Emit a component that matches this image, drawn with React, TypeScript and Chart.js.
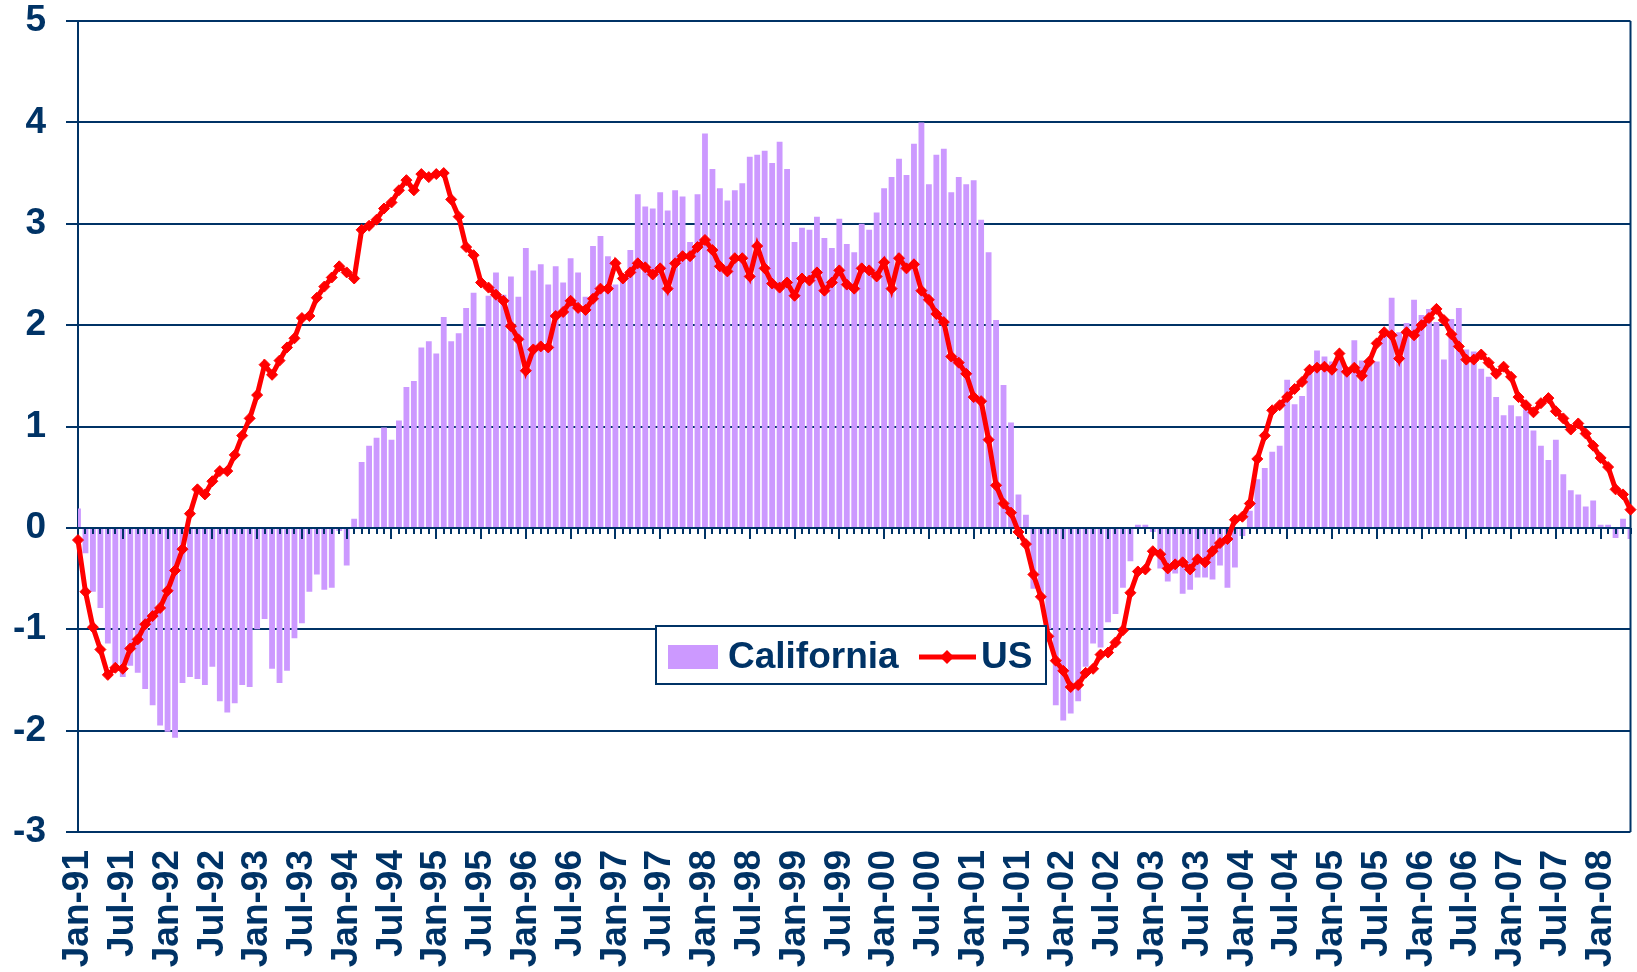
import React, { useEffect, useRef } from "react";
import { Chart, registerables } from "chart.js";

Chart.register(...registerables);

// ---------------- data ----------------
const MONTH_NAMES = ["Jan", "Feb", "Mar", "Apr", "May", "Jun", "Jul", "Aug", "Sep", "Oct", "Nov", "Dec"];
const FIRST_YEAR = 1991;

// California (bars), monthly, Jan-91 .. May-08
const californiaValues = [
  0.19, -0.25, -0.63, -0.79, -1.14, -1.35, -1.47, -1.36, -1.43, -1.59, -1.75, -1.95,
  -2.01, -2.07, -1.53, -1.47, -1.49, -1.55, -1.37, -1.71, -1.82, -1.73, -1.55, -1.57,
  -1.0, -0.9, -1.39, -1.53, -1.41, -1.09, -0.94, -0.63, -0.46, -0.61, -0.59, -0.03,
  -0.37, 0.09, 0.65, 0.81, 0.89, 0.99, 0.87, 1.06, 1.39, 1.45, 1.78, 1.84,
  1.72, 2.08, 1.84, 1.92, 2.17, 2.32, 1.98, 2.29, 2.52, 2.3, 2.48, 2.28,
  2.76, 2.54, 2.6, 2.4, 2.58, 2.42, 2.66, 2.52, 2.28, 2.78, 2.88, 2.68,
  2.4, 2.45, 2.74, 3.29, 3.17, 3.15, 3.31, 3.13, 3.33, 3.27, 2.82, 3.29,
  3.89, 3.54, 3.35, 3.23, 3.33, 3.4, 3.66, 3.68, 3.72, 3.6, 3.81, 3.54,
  2.82, 2.96, 2.94, 3.07, 2.86, 2.76, 3.05, 2.8, 2.72, 3.0, 2.94, 3.11,
  3.35, 3.46, 3.64, 3.48, 3.79, 4.0, 3.39, 3.68, 3.74, 3.31, 3.46, 3.39,
  3.43, 3.04, 2.72, 2.05, 1.41, 1.04, 0.33, 0.13, -0.6, -0.66, -1.0, -1.75,
  -1.9, -1.83, -1.71, -1.37, -1.14, -1.18, -0.93, -0.85, -0.59, -0.33, 0.03, 0.03,
  -0.04, -0.4, -0.53, -0.45, -0.65, -0.61, -0.49, -0.49, -0.51, -0.37, -0.59, -0.39,
  -0.08, 0.17, 0.48, 0.59, 0.75, 0.81, 1.46, 1.22, 1.3, 1.55, 1.75, 1.69,
  1.64, 1.72, 1.52, 1.85, 1.65, 1.64, 1.64, 1.9, 2.27, 1.93, 2.02, 2.25,
  2.1, 2.16, 2.03, 1.66, 2.06, 2.17, 1.76, 1.74, 1.57, 1.49, 1.29, 1.11,
  1.21, 1.1, 1.17, 0.96, 0.81, 0.67, 0.87, 0.53, 0.37, 0.33, 0.21, 0.27,
  0.03, 0.03, -0.1, 0.09, -0.11,
];

// US (line), monthly, Jan-91 .. May-08
const usValues = [
  -0.12, -0.63, -0.98, -1.2, -1.45, -1.38, -1.39, -1.19, -1.1, -0.95, -0.87, -0.79,
  -0.62, -0.42, -0.21, 0.14, 0.38, 0.33, 0.46, 0.56, 0.56, 0.72, 0.91, 1.08,
  1.31, 1.61, 1.51, 1.65, 1.78, 1.87, 2.07, 2.09, 2.27, 2.38, 2.47, 2.58,
  2.52, 2.46, 2.94, 2.98, 3.04, 3.15, 3.21, 3.33, 3.43, 3.33, 3.49, 3.46,
  3.49, 3.5, 3.24, 3.07, 2.77, 2.69, 2.42, 2.37, 2.3, 2.24, 1.99, 1.86,
  1.55, 1.76, 1.79, 1.78, 2.09, 2.13, 2.24, 2.17, 2.15, 2.26, 2.36, 2.36,
  2.61, 2.46, 2.52, 2.61, 2.57, 2.5, 2.56, 2.36, 2.61, 2.68, 2.68, 2.77,
  2.84, 2.74, 2.58, 2.53, 2.66, 2.66, 2.48, 2.78, 2.56, 2.41, 2.37, 2.42,
  2.29, 2.46, 2.44, 2.52, 2.34, 2.42, 2.54, 2.4, 2.36, 2.56, 2.54, 2.48,
  2.62, 2.36, 2.66, 2.56, 2.6, 2.34, 2.25, 2.11, 2.03, 1.69, 1.63, 1.52,
  1.29, 1.25, 0.87, 0.42, 0.24, 0.15, -0.04, -0.16, -0.46, -0.68, -1.07, -1.31,
  -1.41, -1.57, -1.55, -1.43, -1.39, -1.25, -1.23, -1.13, -1.01, -0.64, -0.43, -0.41,
  -0.23, -0.26, -0.4, -0.36, -0.34, -0.41, -0.31, -0.34, -0.23, -0.15, -0.11, 0.08,
  0.11, 0.24, 0.68, 0.91, 1.16, 1.21, 1.29, 1.37, 1.44, 1.56, 1.58, 1.59,
  1.56, 1.72, 1.54, 1.58, 1.5, 1.64, 1.82, 1.93, 1.9, 1.67, 1.93, 1.9,
  2.0, 2.07, 2.16, 2.05, 1.91, 1.79, 1.66, 1.66, 1.71, 1.63, 1.52, 1.59,
  1.49, 1.29, 1.21, 1.14, 1.23, 1.28, 1.15, 1.08, 0.97, 1.03, 0.93, 0.81,
  0.69, 0.6, 0.38, 0.33, 0.18,
];

// axis labels shown on the category axis
const tickLabels = [
  "Jan-91", "Jul-91", "Jan-92", "Jul-92", "Jan-93", "Jul-93", "Jan-94", "Jul-94",
  "Jan-95", "Jul-95", "Jan-96", "Jul-96", "Jan-97", "Jul-97", "Jan-98", "Jul-98",
  "Jan-99", "Jul-99", "Jan-00", "Jul-00", "Jan-01", "Jul-01", "Jan-02", "Jul-02",
  "Jan-03", "Jul-03", "Jan-04", "Jul-04", "Jan-05", "Jul-05", "Jan-06", "Jul-06",
  "Jan-07", "Jul-07", "Jan-08",
];

const categories = californiaValues.map((_, i) => {
  const yr = (FIRST_YEAR + Math.floor(i / 12)) % 100;
  return `${MONTH_NAMES[i % 12]}-${String(yr).padStart(2, "0")}`;
});

const SERIES_NAMES = ["California", "US"];

// ---------------- style ----------------
const NAVY = "#003366";
const LAVENDER = "#CC99FF";
const RED = "#FF0000";
const FONT = "'Liberation Sans', Arial, Helvetica, sans-serif";
const FONT_SIZE = 37;

const zeroAxisPlugin = {
  id: "zeroAxis",
  afterDatasetDraw(chart: any, args: any) {
    if (args.index !== 0) return;
    const { ctx, chartArea, scales } = chart;
    const y0 = scales.y.getPixelForValue(0);
    ctx.save();
    ctx.strokeStyle = NAVY;
    ctx.lineWidth = 2;
    ctx.beginPath();
    ctx.moveTo(chartArea.left, y0);
    ctx.lineTo(chartArea.right, y0);
    ctx.stroke();
    ctx.lineWidth = 2;
    for (let i = 0; i < categories.length; i++) {
      const x = Math.round(scales.x.getPixelForValue(i));
      const len = tickLabels.includes(categories[i]) ? 11 : 6;
      ctx.beginPath();
      ctx.moveTo(x, y0);
      ctx.lineTo(x, y0 + len);
      ctx.stroke();
    }
    ctx.beginPath();
    ctx.moveTo(chartArea.right, chartArea.top);
    ctx.lineTo(chartArea.right, chartArea.bottom);
    ctx.stroke();
    ctx.restore();
  },
};

const legendPlugin = {
  id: "boxLegend",
  afterDraw(chart: any) {
    const { ctx, chartArea } = chart;
    const bx = chartArea.left + 578;
    const by = chartArea.top + 605;
    const bw = 390;
    const bh = 58;
    ctx.save();
    ctx.fillStyle = "#ffffff";
    ctx.fillRect(bx, by, bw, bh);
    ctx.strokeStyle = NAVY;
    ctx.lineWidth = 2;
    ctx.strokeRect(bx, by, bw, bh);
    const cy = by + 31;
    ctx.fillStyle = LAVENDER;
    ctx.fillRect(bx + 12, cy - 12, 50, 24);
    ctx.font = `bold ${FONT_SIZE}px ${FONT}`;
    ctx.fillStyle = NAVY;
    ctx.textBaseline = "middle";
    ctx.textAlign = "left";
    ctx.fillText(SERIES_NAMES[0], bx + 72, cy + 1);
    ctx.strokeStyle = RED;
    ctx.lineWidth = 5;
    ctx.beginPath();
    ctx.moveTo(bx + 263, cy);
    ctx.lineTo(bx + 320, cy);
    ctx.stroke();
    ctx.fillStyle = RED;
    const dx = bx + 291;
    ctx.beginPath();
    ctx.moveTo(dx, cy - 7);
    ctx.lineTo(dx + 7, cy);
    ctx.lineTo(dx, cy + 7);
    ctx.lineTo(dx - 7, cy);
    ctx.closePath();
    ctx.fill();
    ctx.fillStyle = NAVY;
    ctx.fillText(SERIES_NAMES[1], bx + 325, cy + 1);
    ctx.restore();
  },
};

export default function App() {
  const canvasRef = useRef<HTMLCanvasElement | null>(null);

  useEffect(() => {
    const canvas = canvasRef.current;
    if (!canvas) return;
    const chart = new Chart(canvas, {
      type: "bar",
      data: {
        labels: categories,
        datasets: [
          {
            type: "bar",
            label: SERIES_NAMES[0],
            data: californiaValues,
            backgroundColor: LAVENDER,
            borderWidth: 0,
            barPercentage: 0.78,
            categoryPercentage: 1,
            order: 2,
          } as any,
          {
            type: "line",
            label: SERIES_NAMES[1],
            data: usValues,
            borderColor: RED,
            borderWidth: 5,
            backgroundColor: RED,
            pointStyle: "rectRot",
            pointRadius: 5.5,
            pointBackgroundColor: RED,
            pointBorderColor: RED,
            pointBorderWidth: 1,
            tension: 0,
            clip: false,
            order: 1,
          } as any,
        ],
      },
      options: {
        responsive: false,
        animation: false,
        devicePixelRatio: 1,
        layout: { padding: { left: 0, top: 21, right: 4, bottom: 0 } },
        plugins: {
          legend: { display: false },
          tooltip: { enabled: false },
          title: { display: false },
        },
        scales: {
          x: {
            type: "category",
            offset: false,
            grid: { display: false },
            border: { display: false },
            ticks: {
              autoSkip: false,
              minRotation: 90,
              maxRotation: 90,
              padding: 10,
              color: NAVY,
              font: { family: FONT, size: FONT_SIZE, weight: "bold", lineHeight: 1 },
              callback: (_v: any, idx: number) =>
                tickLabels.includes(categories[idx]) ? categories[idx] : "",
            },
            afterFit: (scale: any) => {
              scale.height = 140;
              scale.paddingLeft = 0;
              scale.paddingRight = 0;
            },
          },
          y: {
            min: -3,
            max: 5,
            ticks: {
              stepSize: 1,
              padding: 20,
              color: NAVY,
              font: { family: FONT, size: FONT_SIZE, weight: "bold", lineHeight: 1 },
            },
            grid: {
              color: NAVY,
              lineWidth: 2,
              drawTicks: true,
              tickLength: 12,
            },
            border: { display: true, color: NAVY, width: 2 },
            afterFit: (scale: any) => {
              scale.width = 78;
              scale.paddingTop = 0;
              scale.paddingBottom = 0;
            },
          },
        },
      } as any,
      plugins: [zeroAxisPlugin, legendPlugin],
    });
    return () => chart.destroy();
  }, []);

  return (
    <div style={{ position: "absolute", left: 0, top: 0, width: 1637, height: 972, background: "#ffffff" }}>
      <canvas ref={canvasRef} width={1637} height={972} style={{ display: "block" }} />
    </div>
  );
}
